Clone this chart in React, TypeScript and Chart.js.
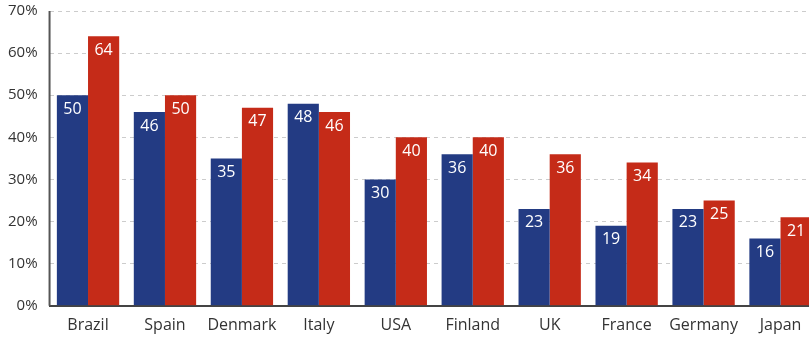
import React, { useEffect, useRef } from "react";
import { Chart, registerables } from "chart.js";

Chart.register(...registerables);

const categories = ["Brazil", "Spain", "Denmark", "Italy", "USA", "Finland", "UK", "France", "Germany", "Japan"];
const seriesBlue = [50, 46, 35, 48, 30, 36, 23, 19, 23, 16];
const seriesRed = [64, 50, 47, 46, 40, 40, 36, 34, 25, 21];
const yTicks = [0, 10, 20, 30, 40, 50, 60, 70];

const FONT = "'Open Sans', sans-serif";

const labelPlugin = {
  id: "barLabels",
  afterDatasetsDraw(chart: any) {
    const ctx = chart.ctx;
    const area = chart.chartArea;
    ctx.save();
    // y axis line (solid)
    ctx.strokeStyle = "#555";
    ctx.lineWidth = 2;
    ctx.beginPath();
    ctx.moveTo(area.left, area.top);
    ctx.lineTo(area.left, area.bottom);
    ctx.stroke();
    ctx.fillStyle = "#ffffff";
    ctx.font = `16px ${FONT}`;
    ctx.textAlign = "center";
    ctx.textBaseline = "middle";
    chart.data.datasets.forEach((ds: any, i: number) => {
      const meta = chart.getDatasetMeta(i);
      meta.data.forEach((bar: any, j: number) => {
        ctx.fillText(String(ds.data[j]), bar.x, bar.y + 14);
      });
    });
    ctx.restore();
  },
};

export default function App() {
  const ref = useRef<HTMLCanvasElement>(null);
  useEffect(() => {
    if (!ref.current) return;
    const chart = new Chart(ref.current, {
      type: "bar",
      data: {
        labels: categories,
        datasets: [
          { data: seriesBlue, backgroundColor: "#233b83", categoryPercentage: 0.81, barPercentage: 1 },
          { data: seriesRed, backgroundColor: "#c52b18", categoryPercentage: 0.81, barPercentage: 1 },
        ],
      },
      options: {
        animation: false,
        responsive: false,
        layout: { padding: { top: 0, right: 0, left: 0, bottom: 0 } },
        plugins: { legend: { display: false }, tooltip: { enabled: false } },
        scales: {
          x: {
            grid: { display: false },
            border: { display: true, color: "#444", width: 2 },
            ticks: { color: "#333", font: { family: FONT, size: 16 }, padding: 2 },
          },
          y: {
            min: 0,
            max: 70,
            afterBuildTicks: (axis: any) => {
              axis.ticks = yTicks.map((v) => ({ value: v }));
            },
            grid: { color: "#cccccc", drawTicks: false },
            border: { display: false, dash: [4, 4] },
            ticks: {
              color: "#333",
              font: { family: FONT, size: 15 },
              padding: 12,
              callback: (v: any) => `${v}%`,
            },
          },
        },
      },
      plugins: [labelPlugin],
    });
    return () => chart.destroy();
  }, []);
  return (
    <div style={{ position: "fixed", left: 0, top: 0, width: 809, height: 338, overflow: "hidden" }}>
      <canvas
        ref={ref}
        width={823}
        height={347}
        style={{ display: "block", position: "absolute", left: -4, top: -10 }}
      />
    </div>
  );
}
